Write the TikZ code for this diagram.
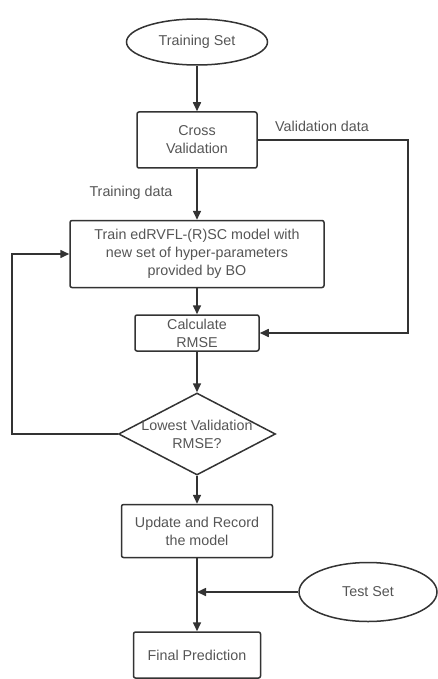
\documentclass[tikz,border=0pt]{standalone}
\usepackage{fontspec}
\setmainfont{Liberation Sans}
\usetikzlibrary{arrows.meta, positioning, shapes.geometric}
\definecolor{linecolor}{RGB}{51,51,51}
\definecolor{textcolor}{RGB}{85,85,85}

\begin{document}
\begin{tikzpicture}[x=1pt, y=-1pt,
          font=\fontsize{14.3}{18}\selectfont,
          every node/.style={text=textcolor, align=center},
          terminal/.style={ellipse, draw=linecolor, line width=1.5pt, inner sep=0pt},
          proc/.style={rectangle, draw=linecolor, line width=1.5pt, rounded corners=2pt, inner sep=0pt},
          decision/.style={diamond, draw=linecolor, line width=1.5pt, inner sep=0pt},
          flow/.style={-{Triangle[length=9pt, width=8pt]}, draw=linecolor, line width=1.6pt}]
          \useasboundingbox (0,0) rectangle (437,679);

          % Nodes
          \node[terminal, minimum width=141, minimum height=46] (trainset) at (197,42) {Training Set};
          \node[proc, minimum width=120, minimum height=56] (crossval) at (197,140) {Cross\\Validation};
          \node[proc, minimum width=254, minimum height=67] (train) at (197,254) {Train edRVFL-(R)SC model with\\new set of hyper-parameters\\provided by BO};
          \node[proc, minimum width=124, minimum height=36] (calc) at (197,333) {Calculate\\RMSE};
          \node[decision, minimum width=157, minimum height=82] (lowest) at (197,434) {};
          \node (lowesttxt) at (197,434) {Lowest Validation\\RMSE?};
          \node[proc, minimum width=151, minimum height=53] (update) at (197,531) {Update and Record\\the model};
          \node[proc, minimum width=127, minimum height=46] (final) at (197,655) {Final Prediction};
          \node[terminal, minimum width=138, minimum height=59] (testset) at (368,592) {Test Set};

          % Labels
          \node (vallabel) at (322,126) {Validation data};
          \node (trainlabel) at (131,193) {Training data};

          % Corners and junction
          \coordinate (vcorner) at (408,140);
          \coordinate (lcorner) at (12,434);
          \coordinate (join) at (197,592);

          % Connectors
          \draw[flow] (trainset) -- (crossval);
          \draw[flow] (crossval) -- (train);
          \draw[flow] (crossval.east) -- (vcorner) |- (calc.east);
          \draw[flow] (train) -- (calc);
          \draw[flow] (calc) -- (lowest);
          \draw[flow] (lowest.west) -- (lcorner) |- (train.west);
          \draw[flow] (lowest) -- (update);
          \draw[flow] (update) -- (final);
          \draw[flow] (testset.west) -- (join);
        \end{tikzpicture}
\end{document}
